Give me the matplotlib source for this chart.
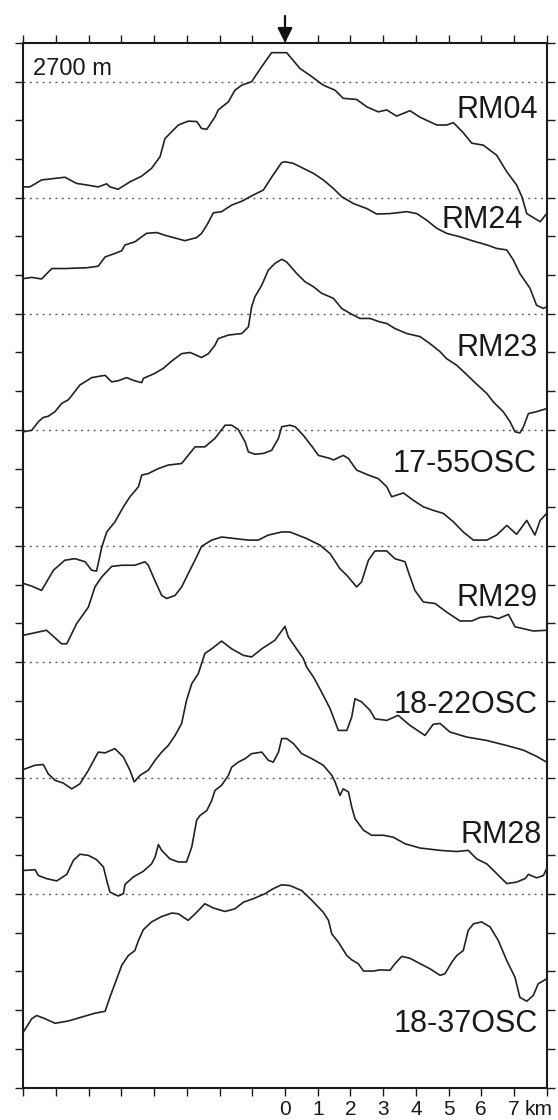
import matplotlib
matplotlib.use("Agg")
import matplotlib.pyplot as plt
from matplotlib.ticker import FixedLocator, FixedFormatter

plt.rcParams['font.family'] = ['Liberation Sans', 'DejaVu Sans']

# ---------------- data (distance in km, elevation in m) ----------------
names = ["RM04", "RM24", "RM23", "17-55OSC", "RM29", "18-22OSC", "RM28", "18-37OSC"]

rm04_x = [-8.0, -7.8, -7.44, -6.73, -6.37, -6.06, -5.71, -5.45, -5.35, -5.10, -4.74, -4.38, -4.08, -3.82,
          -3.67, -3.26, -2.96, -2.70, -2.55, -2.39, -2.14, -2.04, -1.73, -1.53, -1.32, -1.02, -0.71, -0.41,
          -0.10, 0.05, 0.46, 0.82, 1.17, 1.53, 1.78, 2.19, 2.50, 2.85, 3.11, 3.41, 3.82, 4.13, 4.64, 4.94,
          5.15, 5.45, 5.71, 6.06, 6.47, 6.78, 7.08, 7.24, 7.39, 7.80, 8.0]
rm04_z = [2428, 2428, 2446, 2453, 2437, 2433, 2428, 2436, 2428, 2422, 2441, 2456, 2476, 2506,
          2553, 2588, 2598, 2597, 2579, 2577, 2609, 2627, 2648, 2678, 2691, 2700, 2739, 2775,
          2775, 2775, 2734, 2713, 2691, 2678, 2657, 2654, 2635, 2622, 2627, 2611, 2625, 2608, 2588, 2588,
          2594, 2568, 2541, 2536, 2510, 2467, 2433, 2403, 2359, 2338, 2359]

rm24_x = [-8.0, -7.74, -7.44, -7.13, -6.73, -6.06, -5.71, -5.50, -5.20, -4.99, -4.89, -4.59, -4.38, -4.23,
          -3.92, -3.67, -3.41, -3.06, -2.70, -2.55, -2.39, -2.19, -1.94, -1.63, -1.32, -0.97, -0.66, -0.41,
          -0.10, 0.0, 0.25, 0.56, 0.87, 1.17, 1.48, 1.73, 2.09, 2.50, 2.80, 3.21, 3.72, 4.03, 4.33, 4.64,
          4.94, 5.35, 5.76, 6.17, 6.47, 6.78, 6.98, 7.18, 7.49, 7.69, 7.90, 8.0]
rm24_z = [2491, 2494, 2490, 2517, 2517, 2519, 2523, 2547, 2556, 2563, 2578, 2586, 2599, 2608,
          2610, 2603, 2597, 2589, 2597, 2608, 2629, 2661, 2664, 2681, 2691, 2707, 2720, 2753,
          2791, 2793, 2789, 2776, 2763, 2746, 2724, 2703, 2685, 2672, 2658, 2659, 2664, 2659, 2642, 2621,
          2608, 2599, 2588, 2578, 2569, 2565, 2539, 2504, 2466, 2422, 2414, 2418]

rm23_x = [-8.0, -7.74, -7.54, -7.39, -7.24, -7.03, -6.83, -6.62, -6.47, -6.27, -6.0, -5.91, -5.50, -5.30,
          -5.10, -4.84, -4.64, -4.38, -4.33, -3.98, -3.72, -3.46, -3.16, -2.90, -2.55, -2.34, -2.14, -2.04,
          -1.73, -1.32, -1.12, -1.02, -0.92, -0.71, -0.51, -0.31, -0.10, 0.05, 0.36, 0.61, 0.87, 1.12,
          1.48, 1.73, 1.99, 2.29, 2.60, 2.90, 3.11, 3.36, 3.72, 4.13, 4.43, 4.74, 4.94, 5.25, 5.55, 5.86,
          6.17, 6.37, 6.67, 6.88, 7.03, 7.18, 7.29, 7.44, 7.69, 8.0]
rm23_z = [2395, 2399, 2421, 2432, 2435, 2447, 2468, 2478, 2494, 2516, 2530, 2535, 2541, 2524,
          2527, 2535, 2528, 2522, 2533, 2546, 2559, 2578, 2597, 2600, 2587, 2597, 2619, 2636,
          2645, 2649, 2666, 2718, 2744, 2774, 2813, 2830, 2841, 2834, 2804, 2783, 2770, 2753,
          2740, 2714, 2701, 2688, 2688, 2679, 2675, 2662, 2649, 2641, 2623, 2602, 2584, 2567, 2543, 2518,
          2494, 2472, 2447, 2421, 2395, 2392, 2408, 2442, 2447, 2455]

osc1755_x = [-8.0, -7.74, -7.44, -7.08, -6.73, -6.42, -6.11, -5.91, -5.76, -5.60, -5.45, -5.20, -4.94, -4.74,
             -4.48, -4.38, -4.18, -3.87, -3.57, -3.16, -2.96, -2.75, -2.45, -2.14, -1.83, -1.63, -1.43, -1.22,
             -1.12, -0.92, -0.66, -0.41, -0.20, -0.10, 0.15, 0.31, 0.56, 0.87, 1.02, 1.38, 1.48, 1.78,
             1.94, 2.19, 2.55, 2.85, 3.11, 3.26, 3.62, 3.92, 4.23, 4.53, 4.84, 5.15, 5.45, 5.76,
             6.17, 6.47, 6.78, 7.08, 7.39, 7.64, 7.80, 8.0]
osc1755_z = [2303, 2296, 2285, 2337, 2363, 2367, 2359, 2337, 2335, 2397, 2436, 2462, 2501, 2527,
             2553, 2583, 2587, 2600, 2609, 2613, 2634, 2656, 2656, 2678, 2712, 2712, 2701, 2669,
             2643, 2637, 2639, 2647, 2678, 2708, 2712, 2708, 2686, 2652, 2634, 2626, 2622, 2634,
             2626, 2596, 2583, 2574, 2553, 2527, 2537, 2518, 2501, 2492, 2484, 2462, 2436, 2415,
             2415, 2428, 2453, 2430, 2466, 2428, 2466, 2484]

rm29_x = [-8.0, -7.29, -6.83, -6.67, -6.37, -6.01, -5.81, -5.60, -5.30, -4.99, -4.59, -4.28, -4.18, -3.98,
          -3.77, -3.62, -3.36, -3.16, -2.96, -2.70, -2.55, -2.24, -1.94, -1.53, -1.12, -0.82, -0.51, -0.10,
          0.15, 0.66, 1.07, 1.38, 1.68, 1.89, 2.19, 2.34, 2.55, 2.75, 3.11, 3.36, 3.67, 3.77, 3.97, 4.23,
          4.59, 4.94, 5.35, 5.71, 5.96, 6.27, 6.52, 6.83, 7.03, 7.39, 7.59, 8.0]
rm29_z = [2469, 2482, 2447, 2447, 2499, 2542, 2594, 2620, 2647, 2650, 2650, 2659, 2650, 2611,
          2572, 2564, 2572, 2594, 2628, 2672, 2699, 2715, 2723, 2719, 2715, 2715, 2728, 2736,
          2736, 2719, 2702, 2680, 2641, 2624, 2594, 2607, 2663, 2687, 2687, 2667, 2659, 2633, 2585, 2555,
          2551, 2529, 2506, 2506, 2515, 2518, 2512, 2523, 2491, 2484, 2480, 2482]

osc1822_x = [-8.0, -7.64, -7.39, -7.24, -7.03, -6.78, -6.52, -6.27, -6.01, -5.71, -5.50, -5.20, -4.94, -4.74,
             -4.61, -4.43, -4.18, -3.97, -3.77, -3.57, -3.36, -3.16, -3.01, -2.85, -2.65, -2.45, -2.24, -1.94,
             -1.63, -1.27, -1.02, -0.71, -0.31, 0.0, 0.10, 0.31, 0.56, 0.66, 0.87, 1.12, 1.38, 1.63,
             1.89, 2.04, 2.14, 2.34, 2.60, 2.75, 3.11, 3.46, 3.82, 4.28, 4.53, 4.74, 5.04, 5.55,
             6.17, 6.78, 7.29, 7.69, 8.0]
osc1822_z = [2422, 2433, 2435, 2411, 2394, 2387, 2372, 2385, 2420, 2467, 2465, 2476, 2454, 2420,
             2390, 2407, 2420, 2446, 2467, 2484, 2510, 2541, 2601, 2644, 2670, 2722, 2734, 2754,
             2734, 2717, 2713, 2734, 2756, 2792, 2765, 2739, 2709, 2687, 2661, 2622, 2579, 2523,
             2523, 2558, 2605, 2597, 2575, 2553, 2549, 2562, 2536, 2510, 2539, 2541, 2519, 2506,
             2497, 2484, 2472, 2456, 2441]

rm28_x = [-8.0, -7.64, -7.54, -7.29, -6.98, -6.67, -6.47, -6.27, -6.01, -5.76, -5.55, -5.45, -5.35, -5.10,
          -4.94, -4.89, -4.64, -4.33, -4.08, -3.97, -3.87, -3.77, -3.52, -3.26, -3.01, -2.85, -2.70, -2.60,
          -2.39, -2.24, -2.14, -1.94, -1.73, -1.63, -1.43, -1.22, -1.02, -0.71, -0.51, -0.36, -0.20, -0.10,
          0.05, 0.26, 0.51, 0.82, 1.17, 1.43, 1.53, 1.68, 1.78, 1.94, 2.04, 2.14, 2.40, 2.65, 3.01, 3.31,
          3.67, 4.13, 4.74, 5.25, 5.60, 5.86, 6.17, 6.47, 6.78, 7.08, 7.34, 7.44, 7.69, 7.90, 8.0]
rm28_z = [2461, 2463, 2448, 2440, 2434, 2451, 2487, 2503, 2500, 2489, 2470, 2435, 2405, 2395,
          2401, 2425, 2444, 2459, 2478, 2496, 2528, 2513, 2491, 2483, 2483, 2522, 2591, 2603,
          2616, 2642, 2668, 2681, 2707, 2728, 2741, 2750, 2763, 2767, 2746, 2741, 2767, 2802,
          2802, 2789, 2763, 2750, 2733, 2707, 2690, 2655, 2672, 2664, 2625, 2595, 2565, 2552, 2552, 2547,
          2530, 2519, 2513, 2510, 2513, 2491, 2478, 2453, 2427, 2431, 2440, 2451, 2442, 2448, 2466]

osc1837_x = [-8.0, -7.74, -7.59, -7.34, -7.03, -6.62, -6.22, -5.81, -5.50, -5.35, -5.20, -4.99, -4.79, -4.59,
             -4.48, -4.33, -4.08, -3.77, -3.46, -3.26, -2.96, -2.70, -2.45, -2.19, -1.83, -1.53, -1.27, -0.97,
             -0.61, -0.36, -0.10, 0.15, 0.51, 0.82, 1.17, 1.33, 1.43, 1.63, 1.89, 2.04, 2.24, 2.40,
             2.70, 2.90, 3.21, 3.36, 3.57, 3.82, 4.13, 4.43, 4.74, 4.89, 5.10, 5.25, 5.45, 5.60,
             5.76, 6.01, 6.27, 6.52, 6.78, 7.03, 7.18, 7.39, 7.59, 7.74, 8.0]
osc1837_z = [2343, 2378, 2386, 2378, 2366, 2372, 2382, 2392, 2397, 2434, 2468, 2516, 2541, 2554,
             2580, 2608, 2628, 2642, 2651, 2649, 2632, 2653, 2675, 2664, 2655, 2662, 2679, 2688,
             2701, 2714, 2724, 2722, 2709, 2684, 2653, 2632, 2597, 2576, 2541, 2530, 2520, 2501,
             2501, 2504, 2503, 2520, 2539, 2534, 2520, 2507, 2490, 2494, 2524, 2541, 2554, 2606,
             2623, 2628, 2615, 2580, 2528, 2485, 2433, 2423, 2438, 2468, 2481]

profiles_x = [rm04_x, rm24_x, rm23_x, osc1755_x, rm29_x, osc1822_x, rm28_x, osc1837_x]
profiles_z = [rm04_z, rm24_z, rm23_z, osc1755_z, rm29_z, osc1822_z, rm28_z, osc1837_z]

ref_level = 2700          # m, dotted reference line of each profile
profile_step = 300        # m, vertical offset between stacked profiles
x_ticks = list(range(-8, 9))
x_ticklabels = ["" if t < 0 or t > 7 else str(t) for t in x_ticks]
y_ticks = list(range(100, 2801, 100))

# label placement (vertical centre below each reference line, m) -- layout only
label_drop = [66, 50, 81, 83, 127, 104, 140, 329]
label_right = [7.73, 7.28, 7.73, 7.70, 7.73, 7.73, 7.86, 7.73]

# ---------------- figure ----------------
W, H, DPI = 558, 1120, 100
fig = plt.figure(figsize=(W / DPI, H / DPI), dpi=DPI)
ax = fig.add_axes([23.3 / W, 1 - 1087.5 / H, (546.7 - 23.3) / W, (1087.5 - 43) / H])

line_color = '#222222'
for i, (xs, zs) in enumerate(zip(profiles_x, profiles_z)):
    off = i * profile_step
    base = ref_level - off
    ax.axhline(base, color='#5a5a5a', lw=1.0, dashes=(1.4, 3.2), zorder=1)
    ax.plot(xs, [z - off for z in zs], color=line_color, lw=1.2, zorder=3,
            solid_joinstyle='round')
    # label: convert desired cap-centre to baseline (cap height ~21 px)
    cap_m = 10.5 / 0.3867
    ax.text(label_right[i], base - label_drop[i] - cap_m, names[i], ha='right', va='baseline',
            fontsize=22, color='#1a1a1a', zorder=4)

ax.text(-7.70, 2717, "2700 m", ha='left', va='baseline', fontsize=17, color='#1a1a1a')

ax.set_xlim(-8, 8)
ax.set_ylim(100, 2800)
ax.xaxis.set_major_locator(FixedLocator(x_ticks))
ax.xaxis.set_major_formatter(FixedFormatter(x_ticklabels))
ax.yaxis.set_major_locator(FixedLocator(y_ticks))
ax.set_yticklabels([])
ax.tick_params(axis='both', which='both', direction='out', length=6.0, width=1.0, color='#1a1a1a',
               top=True, right=True, bottom=True, left=True, labelsize=15, pad=3.0,
               labelcolor='#1a1a1a')
ax.tick_params(axis='y', labelleft=False, labelright=False)
for s in ax.spines.values():
    s.set_linewidth(1.5)
    s.set_color('#1a1a1a')

# "km" unit next to the last tick label
ax.annotate("km", xy=(7.32, 0), xycoords=('data', 'axes fraction'), xytext=(0, -9.0),
            textcoords='offset points', ha='left', va='top', fontsize=15, color='#1a1a1a',
            annotation_clip=False)

# arrow marking the ridge axis at 0 km
ax.annotate('', xy=(0, 1.0), xycoords=('data', 'axes fraction'), xytext=(0, 19.5),
            textcoords='offset points', annotation_clip=False,
            arrowprops=dict(arrowstyle='-|>,head_length=0.9,head_width=0.45', lw=1.6,
                            color='#111111', shrinkA=0, shrinkB=0))

fig.savefig("out.png", dpi=DPI, facecolor='white')
